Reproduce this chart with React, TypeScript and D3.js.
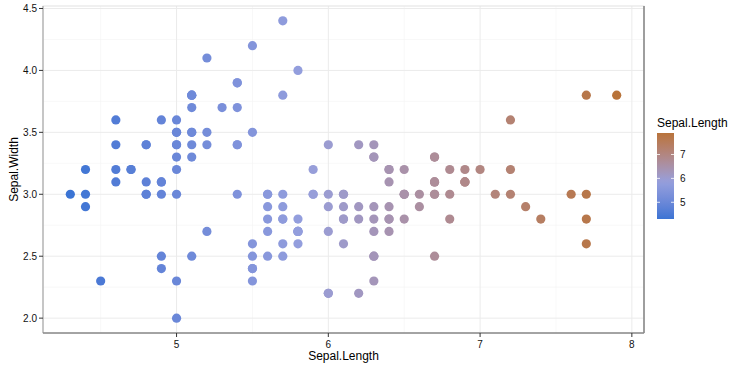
import React, { useEffect, useRef } from "react";
import * as d3 from "d3";

// iris: Sepal.Length / Sepal.Width (setosa, versicolor, virginica)
const sepalLength = [
  5.1, 4.9, 4.7, 4.6, 5.0, 5.4, 4.6, 5.0, 4.4, 4.9, 5.4, 4.8, 4.8, 4.3, 5.8, 5.7, 5.4, 5.1, 5.7, 5.1,
  5.4, 5.1, 4.6, 5.1, 4.8, 5.0, 5.0, 5.2, 5.2, 4.7, 4.8, 5.4, 5.2, 5.5, 4.9, 5.0, 5.5, 4.9, 4.4, 5.1,
  5.0, 4.5, 4.4, 5.0, 5.1, 4.8, 5.1, 4.6, 5.3, 5.0,
  7.0, 6.4, 6.9, 5.5, 6.5, 5.7, 6.3, 4.9, 6.6, 5.2, 5.0, 5.9, 6.0, 6.1, 5.6, 6.7, 5.6, 5.8, 6.2, 5.6,
  5.9, 6.1, 6.3, 6.1, 6.4, 6.6, 6.8, 6.7, 6.0, 5.7, 5.5, 5.5, 5.8, 6.0, 5.4, 6.0, 6.7, 6.3, 5.6, 5.5,
  5.5, 6.1, 5.8, 5.0, 5.6, 5.7, 5.7, 6.2, 5.1, 5.7,
  6.3, 5.8, 7.1, 6.3, 6.5, 7.6, 4.9, 7.3, 6.7, 7.2, 6.5, 6.4, 6.8, 5.7, 5.8, 6.4, 6.5, 7.7, 7.7, 6.0,
  6.9, 5.6, 7.7, 6.3, 6.7, 7.2, 6.2, 6.1, 6.4, 7.2, 7.4, 7.9, 6.4, 6.3, 6.1, 7.7, 6.3, 6.4, 6.0, 6.9,
  6.7, 6.9, 5.8, 6.8, 6.7, 6.7, 6.3, 6.5, 6.2, 5.9,
];
const sepalWidth = [
  3.5, 3.0, 3.2, 3.1, 3.6, 3.9, 3.4, 3.4, 2.9, 3.1, 3.7, 3.4, 3.0, 3.0, 4.0, 4.4, 3.9, 3.5, 3.8, 3.8,
  3.4, 3.7, 3.6, 3.3, 3.4, 3.0, 3.4, 3.5, 3.4, 3.2, 3.1, 3.4, 4.1, 4.2, 3.1, 3.2, 3.5, 3.6, 3.0, 3.4,
  3.5, 2.3, 3.2, 3.5, 3.8, 3.0, 3.8, 3.2, 3.7, 3.3,
  3.2, 3.2, 3.1, 2.3, 2.8, 2.8, 3.3, 2.4, 2.9, 2.7, 2.0, 3.0, 2.2, 2.9, 2.9, 3.1, 3.0, 2.7, 2.2, 2.5,
  3.2, 2.8, 2.5, 2.8, 2.9, 3.0, 2.8, 3.0, 2.9, 2.6, 2.4, 2.4, 2.7, 2.7, 3.0, 3.4, 3.1, 2.3, 3.0, 2.5,
  2.6, 3.0, 2.6, 2.3, 2.7, 3.0, 2.9, 2.9, 2.5, 2.8,
  3.3, 2.7, 3.0, 2.9, 3.0, 3.0, 2.5, 2.9, 2.5, 3.6, 3.2, 2.7, 3.0, 2.5, 2.8, 3.2, 3.0, 3.8, 2.6, 2.2,
  3.2, 2.8, 2.8, 2.7, 3.3, 3.2, 2.8, 3.0, 2.8, 3.0, 2.8, 3.8, 2.8, 2.8, 2.6, 3.0, 3.4, 3.1, 3.0, 3.1,
  3.1, 3.1, 2.7, 3.2, 3.3, 3.0, 2.5, 3.0, 3.4, 3.0,
];

const xTicks = [5, 6, 7, 8];
const yTicks = [2.0, 2.5, 3.0, 3.5, 4.0, 4.5];
const legendTicks = [5, 6, 7];

const W = 749;
const H = 369;
const font = "'Liberation Sans', Arial, sans-serif";

const App = () => {
  const ref = useRef<SVGSVGElement>(null);

  useEffect(() => {
    const svg = d3.select(ref.current);
    svg.selectAll("*").remove();

    const left = 43, right = 644, top = 6, bottom = 333;

    const xMin = d3.min(sepalLength)!, xMax = d3.max(sepalLength)!;
    const yMin = d3.min(sepalWidth)!, yMax = d3.max(sepalWidth)!;
    const xPad = (xMax - xMin) * 0.05, yPad = (yMax - yMin) * 0.05;

    const x = d3.scaleLinear().domain([xMin - xPad, xMax + xPad]).range([left, right]);
    const y = d3.scaleLinear().domain([yMin - yPad, yMax + yPad]).range([bottom, top]);

    // blue -> lavender -> brown
    const color = d3
      .scaleLinear<string>()
      .domain([xMin, 5.85, xMax])
      .range(["#3b74d4", "#959fdd", "#b8733a"])
      .interpolate(d3.interpolateLab);

    svg.append("rect").attr("x", 0).attr("y", 0).attr("width", W).attr("height", H).attr("fill", "#fff");

    // grid
    const grid = svg.append("g");
    const xMinor = [4.5, 5.5, 6.5, 7.5];
    const yMinor = [2.25, 2.75, 3.25, 3.75, 4.25];
    xMinor.forEach((v) =>
      grid.append("line").attr("x1", x(v)).attr("x2", x(v)).attr("y1", top).attr("y2", bottom)
        .attr("stroke", "#f4f4f4").attr("stroke-width", 0.6));
    yMinor.forEach((v) =>
      grid.append("line").attr("y1", y(v)).attr("y2", y(v)).attr("x1", left).attr("x2", right)
        .attr("stroke", "#f4f4f4").attr("stroke-width", 0.6));
    xTicks.forEach((v) =>
      grid.append("line").attr("x1", x(v)).attr("x2", x(v)).attr("y1", top).attr("y2", bottom)
        .attr("stroke", "#ebebeb").attr("stroke-width", 1));
    yTicks.forEach((v) =>
      grid.append("line").attr("y1", y(v)).attr("y2", y(v)).attr("x1", left).attr("x2", right)
        .attr("stroke", "#ebebeb").attr("stroke-width", 1));

    // panel border
    svg.append("rect").attr("x", left).attr("y", top).attr("width", right - left).attr("height", bottom - top)
      .attr("fill", "none").attr("stroke", "#e2e2e2").attr("stroke-width", 1);

    // points
    svg.append("g")
      .selectAll("circle")
      .data(sepalLength.map((v, i) => ({ sl: v, sw: sepalWidth[i] })))
      .join("circle")
      .attr("cx", (d) => x(d.sl))
      .attr("cy", (d) => y(d.sw))
      .attr("r", 4.6)
      .attr("fill", (d) => color(d.sl));

    // axis lines
    svg.append("line").attr("x1", left).attr("x2", left).attr("y1", top).attr("y2", bottom)
      .attr("stroke", "#aaaaaa").attr("stroke-width", 1.2);
    svg.append("line").attr("x1", left).attr("x2", right).attr("y1", bottom).attr("y2", bottom)
      .attr("stroke", "#8a8a8a").attr("stroke-width", 1.6);
    svg.append("line").attr("x1", right).attr("x2", right).attr("y1", top).attr("y2", bottom)
      .attr("stroke", "#8a8a8a").attr("stroke-width", 1.6);

    // x axis
    const xAxis = svg.append("g");
    xTicks.forEach((v) => {
      xAxis.append("line").attr("x1", x(v)).attr("x2", x(v)).attr("y1", bottom).attr("y2", bottom + 4)
        .attr("stroke", "#333");
      xAxis.append("text").attr("x", x(v)).attr("y", bottom + 15).attr("text-anchor", "middle")
        .attr("font-family", font).attr("font-size", 10).attr("fill", "#111").text(v);
    });
    // y axis
    const yAxis = svg.append("g");
    yTicks.forEach((v) => {
      yAxis.append("line").attr("x1", left - 4).attr("x2", left).attr("y1", y(v)).attr("y2", y(v))
        .attr("stroke", "#333");
      yAxis.append("text").attr("x", left - 6).attr("y", y(v)).attr("dy", "0.35em").attr("text-anchor", "end")
        .attr("font-family", font).attr("font-size", 10).attr("fill", "#111").text(v.toFixed(1));
    });

    svg.append("text").attr("x", (left + right) / 2).attr("y", 360).attr("text-anchor", "middle")
      .attr("font-family", font).attr("font-size", 12).attr("fill", "#000").text("Sepal.Length");
    svg.append("text").attr("transform", `translate(18,${(top + bottom) / 2}) rotate(-90)`)
      .attr("text-anchor", "middle").attr("font-family", font).attr("font-size", 12).attr("fill", "#000")
      .text("Sepal.Width");

    // legend colourbar
    const lx = 657, lw = 17, ly0 = 133, ly1 = 219;
    const ls = d3.scaleLinear().domain([xMin, xMax]).range([ly1, ly0]);
    const defs = svg.append("defs");
    const grad = defs.append("linearGradient").attr("id", "cbar").attr("x1", 0).attr("x2", 0).attr("y1", 1).attr("y2", 0);
    d3.range(0, 21).forEach((i) => {
      const t = i / 20;
      grad.append("stop").attr("offset", t).attr("stop-color", color(xMin + t * (xMax - xMin)));
    });
    svg.append("text").attr("x", lx).attr("y", 127).attr("font-family", font).attr("font-size", 12)
      .attr("fill", "#000").text("Sepal.Length");
    svg.append("rect").attr("x", lx).attr("y", ly0).attr("width", lw).attr("height", ly1 - ly0)
      .attr("fill", "url(#cbar)");
    legendTicks.forEach((v) => {
      svg.append("line").attr("x1", lx).attr("x2", lx + 3).attr("y1", ls(v)).attr("y2", ls(v))
        .attr("stroke", "#fff").attr("stroke-width", 0.8);
      svg.append("line").attr("x1", lx + lw - 3).attr("x2", lx + lw).attr("y1", ls(v)).attr("y2", ls(v))
        .attr("stroke", "#fff").attr("stroke-width", 0.8);
      svg.append("text").attr("x", lx + lw + 6).attr("y", ls(v)).attr("dy", "0.35em")
        .attr("font-family", font).attr("font-size", 10).attr("fill", "#111").text(v);
    });
  }, []);

  return (
    <svg
      ref={ref}
      width={W}
      height={H}
      style={{ position: "absolute", left: 0, top: 0, display: "block" }}
    />
  );
};

export default App;
